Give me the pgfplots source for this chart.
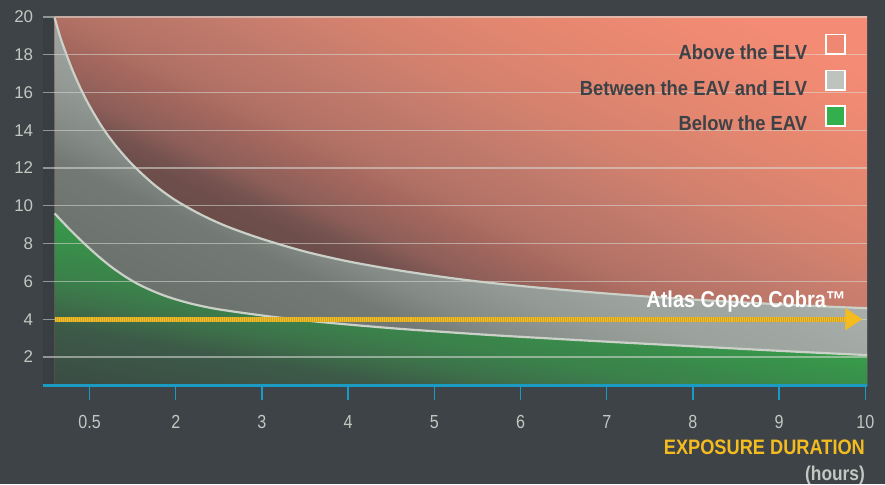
\documentclass[border=0pt]{standalone}
\usepackage{pgfplots}
\pgfplotsset{compat=1.18}
\usepackage{pgfplotstable}
\usepackage{fontspec}
\setmainfont{Liberation Sans}
\newfontfamily\condb{Liberation Sans}[FakeStretch=0.90]
\newfontfamily\condt{Liberation Sans}[FakeStretch=0.87]
\newfontfamily\condr{Liberation Sans}[FakeStretch=0.85]
\usetikzlibrary{arrows.meta}

\definecolor{bgc}{HTML}{3E4348}
\definecolor{stripc}{HTML}{393E42}
\definecolor{gridc}{HTML}{DADDD7}
\definecolor{axisc}{HTML}{1A9BC3}
\definecolor{tickc}{HTML}{C3C7C1}
\definecolor{curvec}{HTML}{CBD1C8}
\definecolor{cobra}{HTML}{F5BC1F}
\definecolor{cobrad}{HTML}{CFA52D}
\definecolor{legtext}{HTML}{3D4247}
\definecolor{legred}{HTML}{EF8872}
\definecolor{leggray}{HTML}{BEC3BD}
\definecolor{leggreen}{HTML}{34AF4E}

% region colours
\definecolor{rd0}{HTML}{4E3938}
\definecolor{rd1}{HTML}{6D4E4B}
\definecolor{rd2}{HTML}{755250}
\definecolor{rd3}{HTML}{8C5E58}
\definecolor{rd4}{HTML}{A7695F}
\definecolor{rd5}{HTML}{B27165}
\definecolor{rd6}{HTML}{C27B6C}
\definecolor{rd7}{HTML}{D0806E}
\definecolor{rd8}{HTML}{E2866F}
\definecolor{rd9}{HTML}{F48B74}
\definecolor{gy0}{HTML}{5E6460}
\definecolor{gy1}{HTML}{6C726D}
\definecolor{gy2}{HTML}{737974}
\definecolor{gy3}{HTML}{848A85}
\definecolor{gy4}{HTML}{939994}
\definecolor{gy5}{HTML}{9CA29D}
\definecolor{gy6}{HTML}{A0A6A1}
\definecolor{gy7}{HTML}{A7ADA8}
\definecolor{gy8}{HTML}{B4BAB5}
\definecolor{gn0}{HTML}{3B4742}
\definecolor{gn1}{HTML}{3B4E45}
\definecolor{gn2}{HTML}{3C5A47}
\definecolor{gn3}{HTML}{3D704A}
\definecolor{gn4}{HTML}{3B804B}
\definecolor{gn5}{HTML}{39894A}
\definecolor{gn6}{HTML}{38964A}
\definecolor{gn7}{HTML}{389E4B}
\definecolor{gn8}{HTML}{38A54C}

\pgfdeclarehorizontalshading{redsh}{100bp}{color(0bp)=(rd0); color(40bp)=(rd1);
  color(41.5bp)=(rd2); color(43.5bp)=(rd3); color(48bp)=(rd4); color(50bp)=(rd5);
  color(56bp)=(rd6); color(60bp)=(rd7); color(67bp)=(rd8); color(78bp)=(rd9);
  color(100bp)=(rd9)}
\pgfdeclarehorizontalshading{graysh}{100bp}{color(0bp)=(gy0); color(30bp)=(gy1);
  color(37bp)=(gy2); color(40bp)=(gy3); color(44bp)=(gy4); color(48bp)=(gy5);
  color(52bp)=(gy6); color(56bp)=(gy7); color(100bp)=(gy8)}
\pgfdeclarehorizontalshading{greensh}{100bp}{color(0bp)=(gn0); color(23bp)=(gn1);
  color(32bp)=(gn2); color(36.5bp)=(gn3); color(41bp)=(gn4); color(45bp)=(gn5);
  color(50.5bp)=(gn6); color(53bp)=(gn7); color(100bp)=(gn8)}

\pgfplotsset{/pgfplots/area legend/.style={/pgfplots/legend image code/.code={%
  \draw[##1, draw=white, line width=1.8bp] (0bp,-1.5bp) rectangle (19.5bp,18bp);}}}

% exposure limit value (upper) and action value (lower)
\pgfplotstableread{
h     a
0.595 19.95
0.65  19.09
0.70  18.41
0.80  17.21
0.90  16.18
1.00  15.29
1.15  14.15
1.30  13.21
1.50  12.17
1.75  11.12
2.00  10.29
2.30  9.52
2.60  8.90
3.00  8.25
3.50  7.58
4.00  7.06
4.50  6.65
5.00  6.30
5.50  6.00
6.00  5.76
6.50  5.55
7.00  5.36
7.50  5.19
8.00  5.04
8.50  4.91
9.00  4.79
9.50  4.68
10.02 4.58
}\elv
\pgfplotstableread{
h     a
0.595 9.60
0.70  9.09
0.80  8.62
0.94  8.00
1.10  7.34
1.25  6.78
1.40  6.30
1.55  5.89
1.70  5.56
1.85  5.28
2.00  5.05
2.20  4.80
2.45  4.56
2.77  4.34
3.10  4.14
3.45  3.96
3.80  3.80
4.20  3.64
4.60  3.49
5.10  3.33
5.66  3.16
6.30  2.99
7.00  2.81
7.70  2.64
8.40  2.47
9.20  2.28
10.02 2.10
}\eav

\begin{document}
\pagecolor{bgc}
\begin{tikzpicture}
\path (-40bp,-99bp) rectangle (845bp,387bp);
\begin{axis}[
  set layers, clip mode=individual,
  scale only axis, width=827bp, height=370bp,
  xmin=0.456, xmax=10.02, ymin=0.475, ymax=20,
  axis x line*=bottom, axis y line*=left,
  x axis line style={axisc, line width=2.6bp},
  y axis line style={draw=none},
  xtick={1,...,10}, xticklabels={0.5,2,3,4,5,6,7,8,9,10},
  ytick={2,4,...,20},
  x tick style={axisc, line width=1.4bp},
  y tick style={draw=none},
  major tick length=14bp, tick align=outside,
  ymajorgrids, grid style={gridc, opacity=0.55, line width=1.2bp},
  xticklabel style={font=\condr\fontsize{19bp}{22bp}\selectfont, text=tickc, yshift=-12bp},
  yticklabel style={font=\fontsize{17bp}{20bp}\selectfont, text=tickc, xshift=8bp},
  /pgf/number format/assume math mode=true,
  legend style={draw=none, fill=none, at={(rel axis cs:0.975,0.9555)}, anchor=north east,
    inner sep=0pt, font=\condb\bfseries\fontsize{20.5bp}{24bp}\selectfont,
    text=legtext, row sep=7bp, column sep=16bp},
  legend plot pos=right, legend cell align=right,
]
\addplot[forget plot, on layer=axis background, draw=none, fill=stripc]
  coordinates {(0.456,20) (0.6,20)} \closedcycle;
\addplot[forget plot, on layer=axis background, draw=none, shading=redsh, shading angle=65]
  coordinates {(0.595,20) (10.02,20)} \closedcycle;
\addplot[forget plot, on layer=axis background, draw=none, shading=graysh, shading angle=65, smooth]
  table[x=h, y=a] {\elv} \closedcycle;
\addplot[forget plot, on layer=axis background, draw=none, shading=greensh, shading angle=80, smooth]
  table[x=h, y=a] {\eav} \closedcycle;
\addplot[forget plot, curvec, line width=2.2bp, smooth] table[x=h, y=a] {\elv};
\addplot[forget plot, curvec, line width=2.2bp, smooth] table[x=h, y=a] {\eav};
\addplot[forget plot, cobrad, line width=5bp] coordinates {(0.595,4) (9.80,4)};
\addplot[forget plot, cobra, line width=5bp, dash pattern=on 1bp off 1bp,
  -{Triangle[length=17bp, width=21bp]}] coordinates {(0.595,4) (9.965,4)};

\addlegendimage{area legend, fill=legred}
\addlegendentry{Above the ELV}
\addlegendimage{area legend, fill=leggray}
\addlegendentry{Between the EAV and ELV}
\addlegendimage{area legend, fill=leggreen}
\addlegendentry{Below the EAV}

\node[anchor=base east, text=white, inner sep=0pt,
  font=\condt\bfseries\fontsize{23bp}{26bp}\selectfont] at (rel axis cs:0.9746,0.2135) {Atlas Copco Cobra™};
\node[anchor=base east, text=cobra, inner sep=0pt,
  font=\condt\bfseries\fontsize{21bp}{24bp}\selectfont] at (rel axis cs:0.9976,-0.186) {EXPOSURE DURATION};
\node[anchor=base east, text=tickc, inner sep=0pt,
  font=\condt\bfseries\fontsize{20bp}{24bp}\selectfont] at (rel axis cs:0.9976,-0.256) {(hours)};
\end{axis}
\pgfresetboundingbox
\path (-40bp,-99bp) rectangle (845bp,387bp);
\end{tikzpicture}
\end{document}
